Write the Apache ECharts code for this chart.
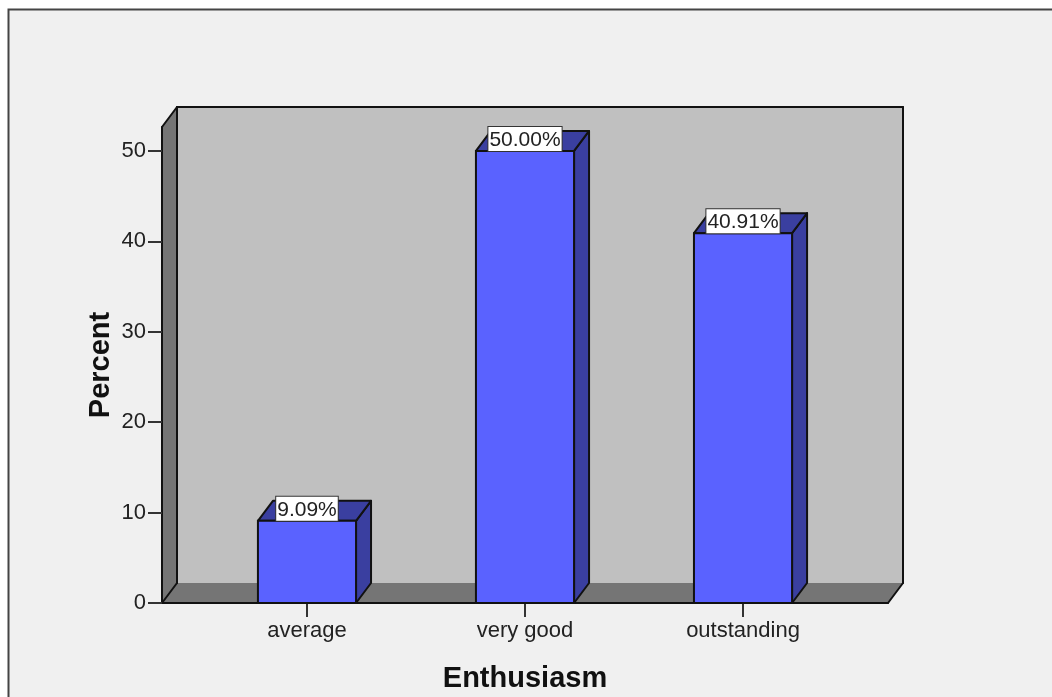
<!DOCTYPE html>
<html>
<head>
<meta charset="utf-8">
<style>
  html, body { margin: 0; padding: 0; background: #fff; }
  #charts { width: 1052px; height: 697px; }
</style>
<script src="https://cdn.jsdelivr.net/npm/echarts@6/dist/echarts.min.js"></script>
</head>
<body>
<div id="charts"></div>
<script>
var categories = ["average", "very good", "outstanding"];
var percents = [9.09, 50.00, 40.91];
var categoryPositions = [0, 1, 2];
var yTicks = [0, 10, 20, 30, 40, 50];

// axis ranges, the plot box is wider than the bar spacing
var xMin = -0.665, xMax = 2.665;
var yMin = 0, yMax = 52.65;

// fake 3d depth in pixels
var depthX = 15, depthY = 20;
var barSize = 0.45;

var fontName = '"Liberation Sans", Arial, sans-serif';
var charts = echarts.init(document.getElementById('charts'));

function poly(points, fill, z2) {
    return {
        type: 'polygon',
        z2: z2 || 0,
        shape: { points: points },
        style: { fill: fill, stroke: null }
    };
}

function line(a, b, color, width) {
    return {
        type: 'line',
        z2: 5,
        shape: { x1: a[0], y1: a[1], x2: b[0], y2: b[1] },
        style: { stroke: color || '#111', lineWidth: width || 2, lineCap: 'round' }
    };
}

function renderWalls(params, api) {
    var p0 = api.coord([xMin, yMin]);
    var p1 = api.coord([xMax, yMax]);
    var l = p0[0], r = p1[0], b = p0[1], t = p1[1];
    var bl = l + depthX, br = r + depthX, bb = b - depthY, bt = t - depthY;
    return {
        type: 'group',
        children: [
            poly([[bl, bt], [br, bt], [br, bb], [bl, bb]], '#c0c0c0'),
            poly([[l, b], [l, t], [bl, bt], [bl, bb]], '#757575'),
            poly([[l, b], [bl, bb], [br, bb], [r, b]], '#757575'),
            line([l, t], [bl, bt]),
            line([bl, bt], [br, bt]),
            line([br, bt], [br, bb]),
            line([bl, bt], [bl, bb]),
            line([l, b], [bl, bb]),
            line([r, b], [br, bb])
        ]
    };
}

function renderBar(params, api) {
    var x = api.value(0);
    var v = api.value(1);
    var top = api.coord([x, v]);
    var base = api.coord([x, yMin]);
    var w = api.size([barSize, 0])[0];
    var l = top[0] - w / 2, r = top[0] + w / 2;
    var t = top[1], b = base[1];
    var darkSide = '#3a3fa0';
    return {
        type: 'group',
        children: [
            {
                type: 'polygon',
                shape: { points: [[r, t], [r + depthX, t - depthY], [r + depthX, b - depthY], [r, b]] },
                style: { fill: darkSide, stroke: '#111', lineWidth: 2, lineJoin: 'round' }
            },
            {
                type: 'polygon',
                shape: { points: [[l, t], [l + depthX, t - depthY], [r + depthX, t - depthY], [r, t]] },
                style: { fill: darkSide, stroke: '#111', lineWidth: 2, lineJoin: 'round' }
            },
            {
                type: 'rect',
                shape: { x: l, y: t, width: w, height: b - t },
                style: { fill: '#5a62ff', stroke: '#111', lineWidth: 2 }
            },
            {
                type: 'text',
                z2: 10,
                x: top[0],
                y: t,
                style: {
                    text: v.toFixed(2) + '%',
                    font: '21px ' + fontName,
                    fill: '#222',
                    align: 'center',
                    verticalAlign: 'bottom',
                    backgroundColor: '#fff',
                    borderColor: '#333',
                    borderWidth: 1,
                    padding: [3, 1, 0, 1]
                }
            }
        ]
    };
}

var barData = [];
for (var i = 0; i < percents.length; i++) {
    barData.push([categoryPositions[i], percents[i]]);
}

var option = {
    animation: false,
    backgroundColor: '#fff',
    graphic: [
        {
            type: 'rect',
            z: -10,
            silent: true,
            shape: { x: 8.5, y: 9.5, width: 1100, height: 750 },
            style: { fill: '#f0f0f0', stroke: '#444', lineWidth: 2 }
        }
    ],
    grid: { left: 162, right: 164, top: 127, bottom: 94, outerBoundsMode: 'none' },
    xAxis: {
        type: 'value',
        min: xMin,
        max: xMax,
        z: 4,
        name: 'Enthusiasm',
        nameLocation: 'middle',
        nameGap: 61,
        nameMoveOverlap: false,
        nameTextStyle: { fontFamily: fontName, fontSize: 29, fontWeight: 'bold', color: '#111' },
        splitLine: { show: false },
        axisLine: { onZero: false, lineStyle: { color: '#111', width: 2 } },
        axisTick: { customValues: categoryPositions, length: 14, lineStyle: { color: '#333', width: 2 } },
        axisLabel: {
            customValues: categoryPositions,
            margin: 17,
            fontFamily: fontName,
            fontSize: 22,
            color: '#222',
            formatter: function (v) { return categories[Math.round(v)]; }
        }
    },
    yAxis: {
        type: 'value',
        min: yMin,
        max: yMax,
        z: 4,
        name: 'Percent',
        nameLocation: 'middle',
        nameGap: 47,
        nameMoveOverlap: false,
        nameTextStyle: { fontFamily: fontName, fontSize: 29, fontWeight: 'bold', color: '#111' },
        splitLine: { show: false },
        axisLine: { onZero: false, lineStyle: { color: '#111', width: 2 } },
        axisTick: { customValues: yTicks, length: 14, lineStyle: { color: '#333', width: 2 } },
        axisLabel: {
            customValues: yTicks,
            margin: 16,
            fontFamily: fontName,
            fontSize: 22,
            color: '#222'
        }
    },
    series: [
        {
            name: 'walls',
            type: 'custom',
            z: 1,
            silent: true,
            renderItem: renderWalls,
            data: [[xMin, yMin]]
        },
        {
            name: 'Percent',
            type: 'custom',
            z: 6,
            silent: true,
            renderItem: renderBar,
            encode: { x: 0, y: 1 },
            data: barData
        }
    ]
};

charts.setOption(option);
</script>
</body>
</html>
